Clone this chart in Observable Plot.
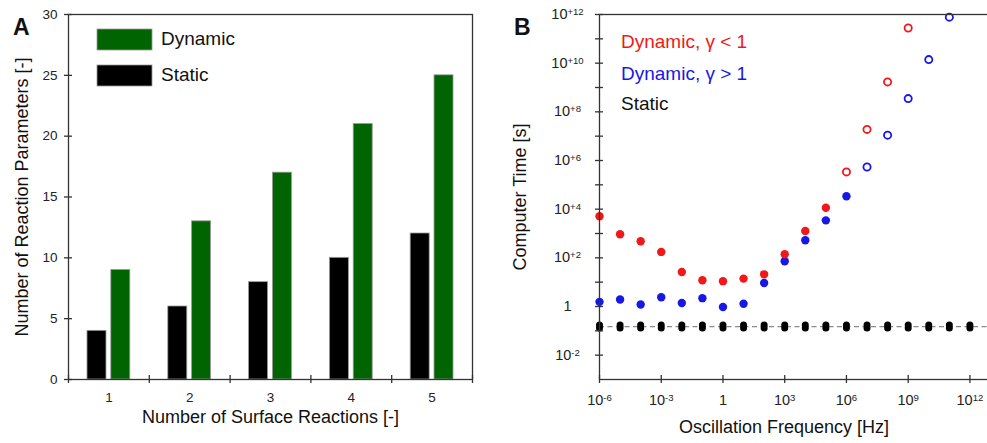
<!DOCTYPE html>
<html><head><meta charset="utf-8">
<script src="https://cdn.jsdelivr.net/npm/d3@7"></script>
<script src="https://cdn.jsdelivr.net/npm/@observablehq/plot@0.6"></script>
<style>
html,body{margin:0;padding:0;background:#fff;}
#wrap{position:relative;width:987px;height:443px;overflow:hidden;font-family:"Liberation Sans",Arial,Helvetica,sans-serif;}
#wrap svg{position:absolute;top:0;}
</style></head><body><div id="wrap"></div>
<script>
// ---------- Panel A data ----------
const surfaceReactions = [1, 2, 3, 4, 5];
const staticParams = [4, 6, 8, 10, 12];
const dynamicParams = [9, 13, 17, 21, 25];
const paramTicks = [0, 5, 10, 15, 20, 25, 30];
const seriesA = ["Static", "Dynamic"];

// ---------- Panel B data ----------
const frequency = [1e-6, 1e-5, 1e-4, 1e-3, 1e-2, 1e-1, 1, 1e1, 1e2, 1e3, 1e4, 1e5, 1e6, 1e7, 1e8, 1e9, 1e10, 1e11, 1e12];
const dynLowTime = [5100, 930, 480, 175, 26, 12, 11, 14, 21, 140, 1260, 11500, 3.4e5, 1.9e7, 1.7e9, 2.8e11];
const dynLowOpen = [0, 0, 0, 0, 0, 0, 0, 0, 0, 0, 0, 0, 1, 1, 1, 1];
const dynHighTime = [1.55, 1.95, 1.2, 2.4, 1.4, 2.2, 0.95, 1.3, 9.3, 72, 525, 3470, 34000, 5.4e5, 1.1e7, 3.5e8, 1.4e10, 7.8e11];
const dynHighOpen = [0, 0, 0, 0, 0, 0, 0, 0, 0, 0, 0, 0, 0, 1, 1, 1, 1, 1];
const staticTime = [0.15, 0.15, 0.15, 0.15, 0.15, 0.15, 0.15, 0.15, 0.15, 0.15, 0.15, 0.15, 0.15, 0.15, 0.15, 0.15, 0.15, 0.15, 0.15];
const timeTicks = [1e-2, 1e-1, 1, 1e1, 1e2, 1e3, 1e4, 1e5, 1e6, 1e7, 1e8, 1e9, 1e10, 1e11, 1e12];
const timeTickLabels = [1e-2, 1, 1e2, 1e4, 1e6, 1e8, 1e10, 1e12];
const freqTicks = [1e-6, 1e-3, 1, 1e3, 1e6, 1e9, 1e12];

const font = '"Liberation Sans", Arial, Helvetica, sans-serif';
const axisColor = "#333";
const green = "#006400";
const red = "#f01818";
const blue = "#1818e6";
const wrap = document.getElementById("wrap");

// ---------- Panel A ----------
const barsA = surfaceReactions.flatMap((c, i) => [
  {cat: c, series: "Static", value: staticParams[i]},
  {cat: c, series: "Dynamic", value: dynamicParams[i]}
]);
const barSpan = {Static: [-0.265, -0.03], Dynamic: [0.03, 0.265]};
const boundaries = surfaceReactions.map(c => c - 0.5).concat([surfaceReactions[surfaceReactions.length - 1] + 0.5]);

const plotA = Plot.plot({
  width: 500, height: 443,
  marginLeft: 68, marginRight: 28, marginTop: 14, marginBottom: 64,
  x: {domain: [0.5, 5.5], label: null},
  y: {domain: [0, 30], label: null},
  color: {domain: seriesA, range: ["#000000", green]},
  style: {fontFamily: font, fontSize: "13px", color: "#222", background: "transparent", overflow: "visible"},
  marks: [
    Plot.rect(barsA, {
      x1: d => d.cat + barSpan[d.series][0],
      x2: d => d.cat + barSpan[d.series][1],
      y1: 0, y2: "value", fill: "series", stroke: "#9a9a9a", strokeWidth: 0.8
    }),
    Plot.frame({stroke: axisColor, strokeWidth: 1.3}),
    Plot.axisX(boundaries, {tickSize: 8, dy: -4, tickFormat: () => "", label: null, stroke: axisColor, strokeWidth: 1.3}),
    Plot.axisX(surfaceReactions, {tickSize: 0, tickPadding: 13, label: null}),
    Plot.axisY(paramTicks, {tickSize: 8, dx: 4, tickFormat: () => "", label: null, stroke: axisColor, strokeWidth: 1.3}),
    Plot.axisY(paramTicks, {tickSize: 0, tickPadding: 11, label: null}),
    Plot.text(["Number of Surface Reactions [-]"], {text: d => d, frameAnchor: "bottom", dy: 38, fontSize: 18, textAnchor: "middle", lineAnchor: "middle", fill: "#111"}),
    Plot.text(["Number of Reaction Parameters [-]"], {text: d => d, frameAnchor: "left", dx: -46, rotate: -90, fontSize: 18, textAnchor: "middle", lineAnchor: "middle", fill: "#111"})
  ]
});
plotA.style.left = "0px";
wrap.appendChild(plotA);

// ---------- Panel B ----------
const lowRows = dynLowTime.map((t, i) => ({f: frequency[i], t, open: dynLowOpen[i] === 1}));
const highRows = dynHighTime.map((t, i) => ({f: frequency[i], t, open: dynHighOpen[i] === 1}));
const staticRows = staticTime.map((t, i) => ({f: frequency[i], t}));
const fmtY = d => { const e = Math.round(Math.log10(d)); return e === 0 ? "1" : `10^${e > 0 ? "+" : ""}${e}`; };
const fmtX = d => { const e = Math.round(Math.log10(d)); return e === 0 ? "1" : `10^${e}`; };

const plotB = Plot.plot({
  width: 487, height: 443,
  marginLeft: 99, marginRight: -3, marginTop: 14, marginBottom: 64,
  x: {type: "log", domain: [1e-6, 1e13], range: [99, 490], label: null},
  y: {type: "log", domain: [1e-3, 1e12], range: [379, 14], label: null},
  style: {fontFamily: font, fontSize: "14px", color: "#222", background: "transparent", overflow: "visible"},
  marks: [
    Plot.ruleY([staticTime[0]], {stroke: "#8a8a8a", strokeDasharray: "5,3.5", strokeWidth: 1.2}),
    Plot.dot(staticRows, {x: "f", y: "t", r: 3.5, fill: "#000", dy: -1.5}),
    Plot.dot(staticRows, {x: "f", y: "t", r: 3.5, fill: "#000", dy: 1.5}),
    Plot.dot(highRows, {filter: d => !d.open, x: "f", y: "t", r: 4.2, fill: blue}),
    Plot.dot(highRows, {filter: d => d.open, x: "f", y: "t", r: 3.6, fill: "white", stroke: blue, strokeWidth: 1.8}),
    Plot.dot(lowRows, {filter: d => !d.open, x: "f", y: "t", r: 4.2, fill: red}),
    Plot.dot(lowRows, {filter: d => d.open, x: "f", y: "t", r: 3.6, fill: "white", stroke: red, strokeWidth: 1.8}),
    Plot.frame({stroke: axisColor, strokeWidth: 1.3}),
    Plot.axisY(timeTicks, {tickSize: 8, dx: 4, tickFormat: () => "", label: null, stroke: axisColor, strokeWidth: 1.3}),
    Plot.axisY(timeTickLabels, {tickSize: 0, tickPadding: 32, textAnchor: "middle", tickFormat: fmtY, label: null}),
    Plot.axisX(freqTicks, {tickSize: 8, dy: -4, tickFormat: () => "", label: null, stroke: axisColor, strokeWidth: 1.3}),
    Plot.axisX(freqTicks, {tickSize: 0, tickPadding: 15, tickFormat: fmtX, label: null}),
    Plot.text(["Oscillation Frequency [Hz]"], {text: d => d, frameAnchor: "bottom", dx: -11, dy: 48, fontSize: 18, textAnchor: "middle", lineAnchor: "middle", fill: "#111"}),
    Plot.text(["Computer Time [s]"], {text: d => d, frameAnchor: "left", dx: -79, rotate: -90, fontSize: 18, textAnchor: "middle", lineAnchor: "middle", fill: "#111"})
  ]
});
plotB.style.left = "500px";
wrap.appendChild(plotB);

// tick label font sizes and superscript exponents
function tickFont(svg, size) {
  d3.select(svg).selectAll('g[aria-label$="tick label"]').attr("font-size", size).style("font-size", size + "px");
}
tickFont(plotA, 13.5);
tickFont(plotB, 14.5);
function superscripts(svg) {
  d3.select(svg).selectAll("text").each(function() {
    const t = this.textContent;
    const m = /^(.*)\^(.*)$/.exec(t);
    if (!m) return;
    const sel = d3.select(this);
    sel.text(null);
    sel.append("tspan").text(m[1]);
    sel.append("tspan").attr("dy", "-0.45em").style("font-size", "0.66em").text(m[2]);
  });
}
superscripts(plotB);

// ---------- legends & panel letters ----------
const ov = d3.select(wrap).append("svg")
  .attr("width", 987).attr("height", 443)
  .style("left", "0px")
  .attr("font-family", font);
const legA = [{label: "Dynamic", color: green, y: 29}, {label: "Static", color: "#000", y: 65}];
ov.selectAll("rect.leg").data(legA).join("rect")
  .attr("x", 97).attr("y", d => d.y).attr("width", 55).attr("height", 21)
  .attr("fill", d => d.color).attr("stroke", "#9a9a9a").attr("stroke-width", 0.8);
ov.selectAll("text.legA").data(legA).join("text")
  .attr("x", 161).attr("y", d => d.y + 16).attr("font-size", 19).attr("fill", "#111").text(d => d.label);
const legB = [
  {label: "Dynamic, \u03B3 < 1", color: red, y: 48},
  {label: "Dynamic, \u03B3 > 1", color: blue, y: 80},
  {label: "Static", color: "#111", y: 110}
];
ov.selectAll("text.legB").data(legB).join("text")
  .attr("x", 621).attr("y", d => d.y).attr("font-size", 19).attr("fill", d => d.color).text(d => d.label);
ov.append("text").attr("x", 13).attr("y", 35).attr("font-size", 23).attr("font-weight", "bold").attr("fill", "#111").text("A");
ov.append("text").attr("x", 514).attr("y", 35).attr("font-size", 23).attr("font-weight", "bold").attr("fill", "#111").text("B");
</script>
</body></html>
